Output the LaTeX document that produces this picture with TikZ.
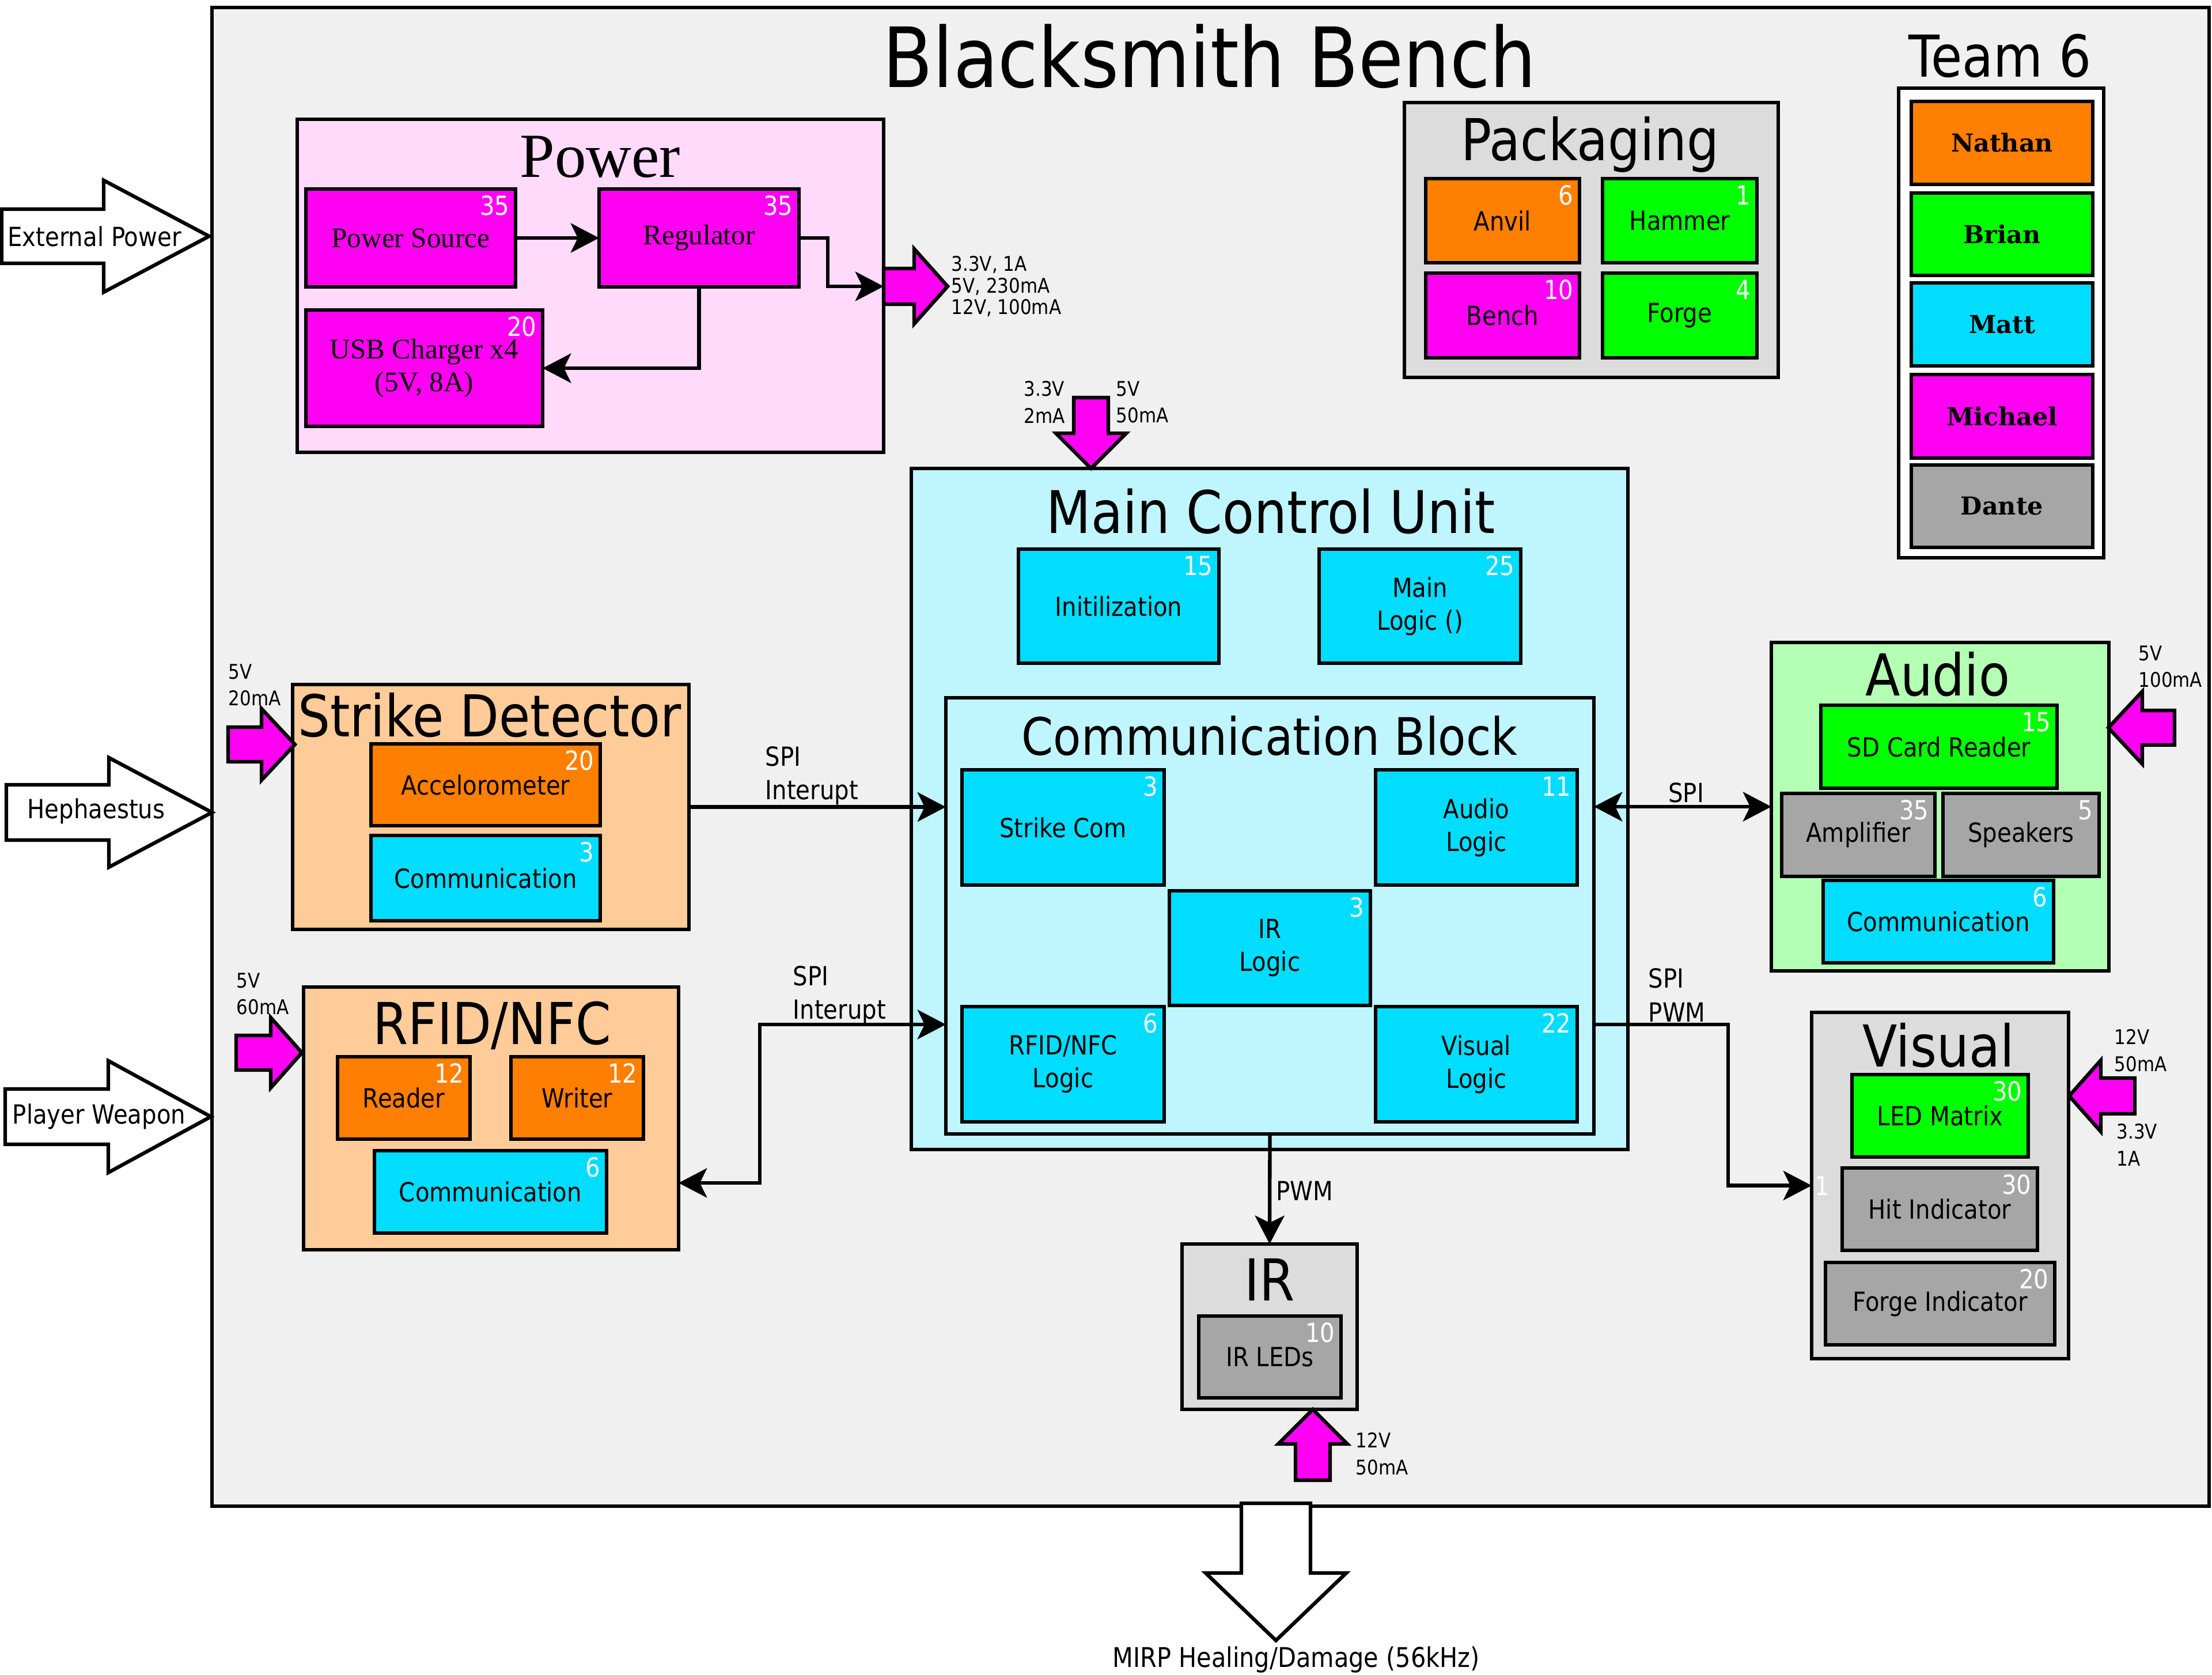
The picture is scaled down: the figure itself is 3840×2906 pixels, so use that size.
\documentclass[tikz,border=0pt]{standalone}
\usepackage{fontspec}
\setmainfont{DejaVu Sans}[FakeStretch=0.88]
\newfontfamily\serfont{Liberation Serif}
\newfontfamily\teamfont{DejaVu Serif}
\usetikzlibrary{arrows.meta,calc}
\definecolor{bgc}{RGB}{240,240,240}
\definecolor{pinkbg}{RGB}{255,218,250}
\definecolor{mag}{RGB}{255,0,242}
\definecolor{orng}{RGB}{255,127,0}
\definecolor{grn}{RGB}{0,255,0}
\definecolor{cyn}{RGB}{0,221,255}
\definecolor{lcyn}{RGB}{191,245,255}
\definecolor{peach}{RGB}{255,204,153}
\definecolor{lgrn}{RGB}{179,255,179}
\definecolor{gry}{RGB}{166,166,166}
\definecolor{lgry}{RGB}{220,220,220}
\newcommand\fsz[2]{\fontsize{#1}{#2}\selectfont}
\newcommand\bx[7]{\node[bxs,#1,minimum width={(#5-#3)*0.01cm},minimum height={(#6-#4)*0.01cm}] (#2) at ({(#3+#5)/2},{(#4+#6)/2}) {#7};}
\newcommand\bxn[8]{\bx{#1}{#2}{#3}{#4}{#5}{#6}{#7}\node[numl] at ($(#2.north east)+(-10,11)$) {#8};}
\newcommand\fatarrow[8]{\begin{scope}[shift={(#2,#3)},rotate=#4]
 \draw[fatarr,#1] (0,0) -- (-#6,#7) -- (-#6,#8) -- (-#5,#8) -- (-#5,-#8) -- (-#6,-#8) -- (-#6,-#7) -- cycle;
 \end{scope}}
\begin{document}
\begin{tikzpicture}[x=0.01cm,y=-0.01cm,
  bxs/.style={draw,line width=1.8pt,inner sep=0pt,outer sep=0pt,align=center,font=\fsz{13pt}{16.2pt}},
  numl/.style={text=white,font=\fsz{13pt}{15pt},inner sep=0pt,anchor=north east},
  title/.style={font=\fsz{28.5pt}{34pt},inner sep=0pt,anchor=base},
  team/.style={fill=#1,font=\teamfont\bfseries\fsz{12.2pt}{14pt}},
  pwrin/.style={font=\serfont\fsz{14pt}{16.2pt}},
  conn/.style={line width=1.8pt},
  >={Stealth[length=14pt,width=14.5pt,inset=3.5pt]},
  fatarr/.style={draw,line width=1.8pt,line join=miter},
  plab/.style={font=\fsz{10pt}{13.2pt},align=left,inner sep=0pt,anchor=west},
  slab/.style={font=\fsz{13pt}{16.5pt},align=left,inner sep=0pt,anchor=west},
  elab/.style={font=\fsz{13pt}{15pt},inner sep=0pt}]
\useasboundingbox (0,0) rectangle (3840,2906);
\fill[white] (0,0) rectangle (3840,2906);
% outer bench
\bx{fill=bgc}{bench}{368}{13}{3835}{2614}{}
\node[title,font=\fsz{41pt}{48pt}] (benchT) at (2100,152) {Blacksmith Bench};
% team
\node[title] (teamT) at (3472,134) {Team 6};
\bx{fill=white}{teambox}{3296}{153}{3652}{968}{}
\bx{team=orng}{nathan}{3318}{176}{3633}{320}{Nathan}
\bx{team=grn}{brian}{3318}{335}{3633}{478}{Brian}
\bx{team=cyn}{matt}{3318}{491}{3633}{635}{Matt}
\bx{team=mag}{michael}{3318}{650}{3633}{795}{Michael}
\bx{team=gry}{dante}{3318}{807}{3633}{950}{Dante}
% packaging
\bx{fill=lgry}{pack}{2438}{178}{3087}{655}{}
\node[title] (packT) at (2760,278) {Packaging};
\bxn{fill=orng}{anvil}{2475}{310}{2742}{456}{Anvil}{6}
\bxn{fill=grn}{hammer}{2782}{310}{3050}{456}{Hammer}{1}
\bxn{fill=mag}{benchp}{2475}{474}{2742}{621}{Bench}{10}
\bxn{fill=grn}{forge}{2782}{474}{3050}{621}{Forge}{4}
% power
\bx{fill=pinkbg}{pwr}{516}{207}{1534}{785}{}
\node[title,font=\serfont\fsz{31pt}{36pt}] (pwrT) at (1042,307) {Power};
\bxn{fill=mag,pwrin}{psrc}{531}{328}{895}{498}{Power Source}{35}
\bxn{fill=mag,pwrin}{reg}{1040}{328}{1387}{498}{Regulator}{35}
\bxn{fill=mag,pwrin}{usb}{531}{538}{942}{740}{USB Charger x4\\(5V, 8A)}{20}
\coordinate (pout) at (1534,497);
\draw[conn,->] (psrc) -- (reg);
\draw[conn,->] (reg.east) -- ++(50,0) |- (pout);
\draw[conn,->] (reg.south) |- (usb.east);
\fatarrow{fill=mag}{1645}{497}{0}{111}{58}{65}{31}
\node[plab,font=\fsz{10pt}{10.7pt}] (poutL) at (1651,497) {3.3V, 1A\\5V, 230mA\\12V, 100mA};
% main control unit
\bx{fill=lcyn}{mcu}{1582}{813}{2826}{1995}{}
\node[title,font=\fsz{29pt}{34pt}] (mcuT) at (2206,925) {Main Control Unit};
\bxn{fill=cyn}{init}{1768}{953}{2116}{1151}{Initilization}{15}
\bxn{fill=cyn}{mlog}{2290}{953}{2640}{1151}{Main\\Logic ()}{25}
\bx{fill=lcyn}{cb}{1642}{1211}{2767}{1968}{}
\node[title,font=\fsz{25.5pt}{30pt}] (cbT) at (2204,1310) {Communication Block};
\bxn{fill=cyn}{scom}{1670}{1336}{2021}{1536}{Strike Com}{3}
\bxn{fill=cyn}{alog}{2388}{1336}{2738}{1536}{Audio\\Logic}{11}
\bxn{fill=cyn}{irlog}{2030}{1546}{2379}{1745}{IR\\Logic}{3}
\bxn{fill=cyn}{rlog}{1670}{1747}{2021}{1947}{RFID/NFC\\Logic}{6}
\bxn{fill=cyn}{vlog}{2388}{1747}{2738}{1947}{Visual\\Logic}{22}
\fatarrow{fill=mag}{1894}{813}{-90}{123}{61}{61}{30}
\node[plab] (mcuL1) at (1777,698) {3.3V\\2mA};
\node[plab] (mcuL2) at (1937,698) {5V\\50mA};
% strike detector
\bx{fill=peach}{sd}{508}{1188}{1196}{1613}{}
\node[title] (sdT) at (850,1278) {Strike Detector};
\bxn{fill=orng}{acc}{644}{1291}{1042}{1433}{Accelorometer}{20}
\bxn{fill=cyn}{sdc}{644}{1450}{1042}{1598}{Communication}{3}
\fatarrow{fill=mag}{512}{1292}{0}{116}{58}{62}{30}
\node[plab] (sdL) at (396,1189) {5V\\20mA};
% rfid
\bx{fill=peach}{rfid}{527}{1713}{1178}{2169}{}
\node[title] (rfidT) at (854,1812) {RFID/NFC};
\bxn{fill=orng}{reader}{586}{1834}{816}{1977}{Reader}{12}
\bxn{fill=orng}{writer}{887}{1834}{1117}{1977}{Writer}{12}
\bxn{fill=cyn}{rfc}{650}{1997}{1053}{2140}{Communication}{6}
\fatarrow{fill=mag}{524}{1827}{0}{114}{54}{61}{30}
\node[plab] (rfidL) at (410,1725) {5V\\60mA};
% audio
\bx{fill=lgrn}{audio}{3075}{1115}{3661}{1685}{}
\node[title] (audioT) at (3364,1207) {Audio};
\bxn{fill=grn}{sdr}{3161}{1224}{3571}{1368}{SD Card Reader}{15}
\bxn{fill=gry}{amp}{3093}{1377}{3359}{1521}{Amplifier}{35}
\bxn{fill=gry}{spk}{3373}{1377}{3644}{1521}{Speakers}{5}
\bxn{fill=cyn}{ac}{3165}{1528}{3565}{1671}{Communication}{6}
\fatarrow{fill=mag}{3660}{1263}{180}{115}{59}{63}{30}
\node[plab] (audioL) at (3712,1157) {5V\\100mA};
% visual
\bx{fill=lgry}{visual}{3145}{1757}{3591}{2358}{}
\node[title] (visualT) at (3365,1851) {Visual};
\bxn{fill=grn}{led}{3215}{1865}{3521}{2008}{LED Matrix}{30}
\bxn{fill=gry}{hit}{3198}{2027}{3537}{2170}{Hit Indicator}{30}
\bxn{fill=gry}{fi}{3169}{2191}{3567}{2334}{Forge Indicator}{20}
\fatarrow{fill=mag}{3592}{1902}{180}{114}{55}{62}{31}
\node[plab] (visL1) at (3670,1823) {12V\\50mA};
\node[plab] (visL2) at (3674,1987) {3.3V\\1A};
% IR
\bx{fill=lgry}{ir}{2052}{2159}{2356}{2446}{}
\node[title] (irT) at (2204,2257) {IR};
\bxn{fill=gry}{irled}{2081}{2284}{2328}{2426}{IR LEDs}{10}
\fatarrow{fill=mag}{2279}{2446}{90}{123}{60}{60}{30}
\node[plab] (irL) at (2353,2523) {12V\\50mA};
% connectors
\coordinate (rk1) at (1319,2053);
\coordinate (rk2) at (1319,1778);
\coordinate (vk) at (3000,1778);
\draw[conn,->] (sd.east) -- (sd.east -| cb.west);
\node[slab] (sdS) at (1328,1346) {SPI\\Interupt};
\draw[conn,<->] (rfid.east |- rk1) -- (rk1) -- (rk2) -- (rk2 -| cb.west);
\node[slab] (rfidS) at (1376,1727) {SPI\\Interupt};
\draw[conn,<->] (audio.west -| cb.east) -- (audio.west);
\node[elab,anchor=base] (audioS) at (2927,1392) {SPI};
\draw[conn,->] (cb.east |- vk) -- (vk) |- (visual.west);
\node[slab] (visS) at (2861,1727) {SPI\\PWM};
\node[numl,anchor=west] (vis1) at ($(visual.west)+(5,0)$) {1};
\draw[conn,->] (cb.south) -- (ir.north);
\node[elab,anchor=base west] (pwmS) at (2215,2083) {PWM};
% external arrows
\fatarrow{fill=white}{363}{410}{0}{360}{183}{97}{47}
\node[elab] (extL) at (164,410) {External Power};
\fatarrow{fill=white}{368}{1410}{0}{357}{179}{95}{48}
\node[elab] (hephL) at (167,1408) {Hephaestus};
\fatarrow{fill=white}{366}{1938}{0}{357}{178}{97}{48}
\node[elab] (pwL) at (172,1938) {Player Weapon};
\fatarrow{fill=white}{2215}{2847}{-90}{238}{117}{122}{60}
\node[elab,font=\fsz{13.4pt}{16pt},anchor=base] (mirpL) at (2250,2893) {MIRP Healing/Damage (56kHz)};
\end{tikzpicture}
\end{document}
